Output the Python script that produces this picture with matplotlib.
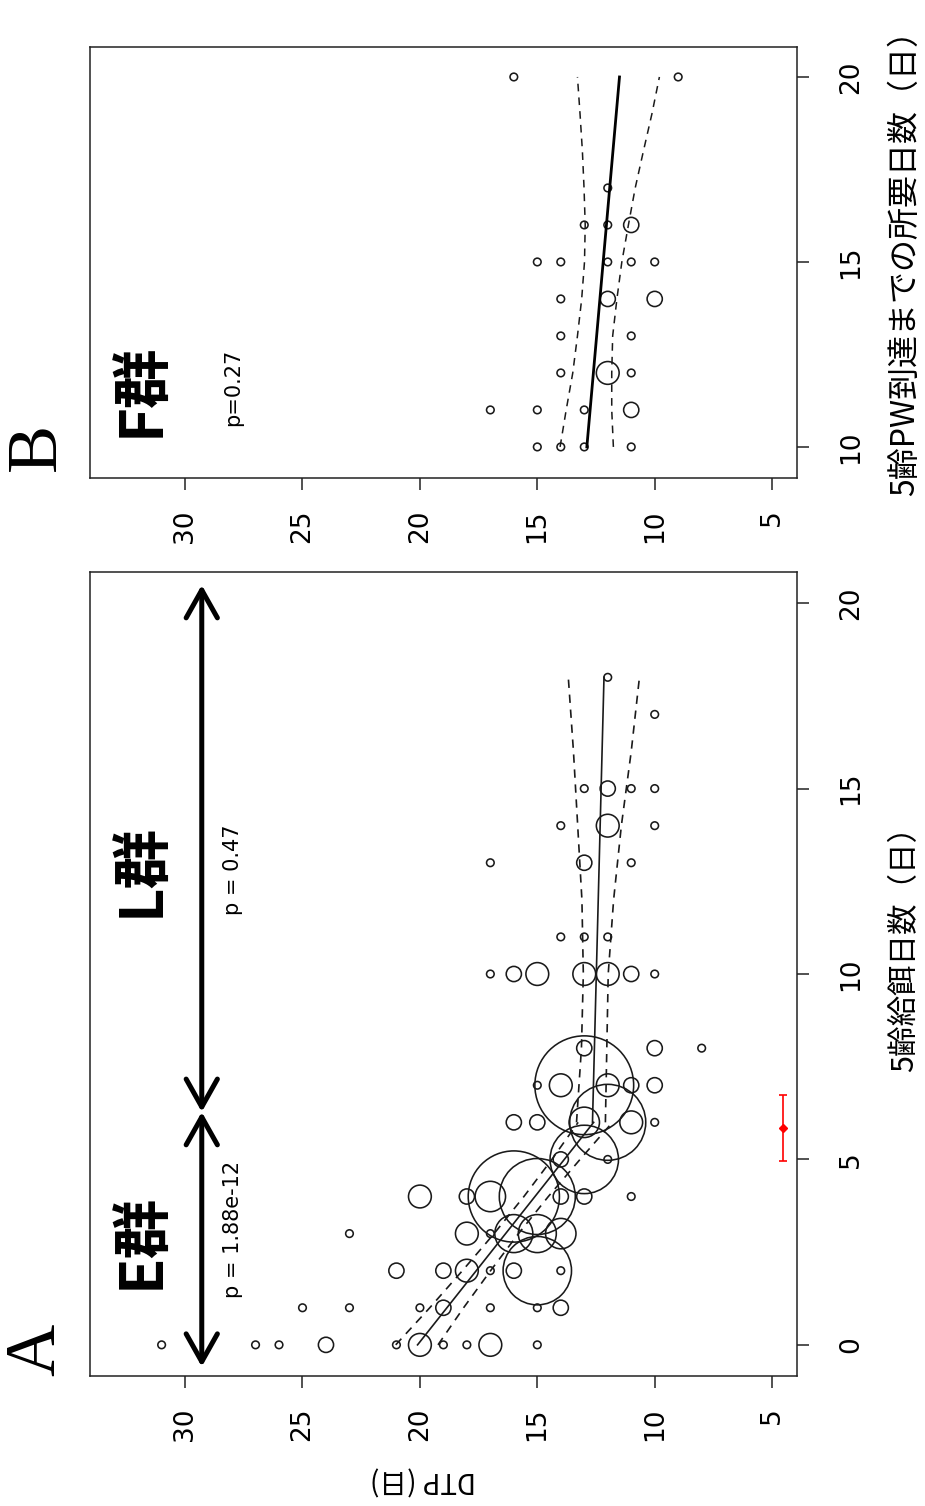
import matplotlib
matplotlib.use("Agg")
import matplotlib.pyplot as plt
import numpy as np

plt.rcParams['font.family'] = ['DejaVu Sans', 'Noto Sans CJK JP']
JP = ['Noto Sans CJK JP', 'DejaVu Sans']

# ---------------- Panel A data (day of 5th-instar feeding, DTP, count) -------------
a_day = [0, 0, 0, 0, 0, 0, 0, 0, 0, 0,
         1, 1, 1, 1, 1, 1, 1,
         2, 2, 2, 2, 2, 2, 2,
         3, 3, 3, 3, 3, 3,
         4, 4, 4, 4, 4, 4, 4, 4,
         5, 5, 5,
         6, 6, 6, 6, 6, 6,
         7, 7, 7, 7, 7, 7,
         8, 8, 8,
         10, 10, 10, 10, 10, 10, 10,
         11, 11, 11,
         13, 13, 13,
         14, 14, 14,
         15, 15, 15, 15,
         17, 18]
a_dtp = [31, 27, 26, 24, 21, 20, 19, 18, 17, 15,
         25, 23, 20, 19, 17, 15, 14,
         21, 19, 18, 17, 16, 15, 14,
         23, 18, 17, 16, 15, 14,
         20, 18, 17, 16, 15, 14, 13, 11,
         14, 13, 12,
         16, 15, 13, 12, 11, 10,
         15, 14, 13, 12, 11, 10,
         13, 10, 8,
         17, 16, 15, 13, 12, 11, 10,
         14, 13, 12,
         17, 13, 11,
         14, 12, 10,
         13, 12, 11, 10,
         10, 12]
a_n = [1, 1, 1, 2, 1, 3, 1, 1, 3, 1,
       1, 1, 1, 2, 1, 1, 2,
       2, 2, 3, 1, 2, 9, 1,
       1, 3, 1, 5, 5, 4,
       3, 2, 4, 12, 10, 2, 2, 1,
       2, 9, 1,
       2, 2, 4, 10, 3, 1,
       1, 3, 13, 3, 2, 2,
       2, 2, 1,
       1, 2, 3, 3, 3, 2, 1,
       1, 1, 1,
       1, 2, 1,
       1, 3, 1,
       1, 2, 1, 1,
       1, 1]

# regression lines and confidence bands
e_line_day = [0, 6]
e_line_dtp = [20.1, 12.6]
e_band_day = [0, 1, 2, 3, 4, 5, 6]
e_band_hi = [21.03, 19.58, 18.19, 16.84, 15.57, 14.38, 13.26]
e_band_lo = [19.23, 18.14, 16.99, 15.80, 14.53, 13.18, 11.80]

l_line_day = [6, 18]
l_line_dtp = [12.65, 12.16]
l_band_day = [6, 8, 10, 12, 14, 16, 18]
l_band_hi = [13.33, 13.12, 13.04, 13.10, 13.28, 13.46, 13.68]
l_band_lo = [12.10, 12.04, 11.98, 11.75, 11.42, 11.00, 10.65]

# red reference point
ref_day = 5.85
ref_dtp = 4.53
ref_err = 0.9

# ---------------- Panel B data -------------
b_day = [10, 10, 10, 10,
         11, 11, 11, 11,
         12, 12, 12,
         13, 13,
         14, 14, 14,
         15, 15, 15, 15, 15,
         16, 16, 16,
         17,
         20, 20]
b_dtp = [15, 14, 13, 11,
         17, 15, 13, 11,
         14, 12, 11,
         14, 11,
         14, 12, 10,
         15, 14, 12, 11, 10,
         13, 12, 11,
         12,
         16, 9]
b_n = [1, 1, 1, 1,
       1, 1, 1, 2,
       1, 3, 1,
       1, 1,
       1, 2, 2,
       1, 1, 1, 1, 1,
       1, 1, 2,
       1,
       1, 1]

f_line_day = [10, 20]
f_line_dtp = [12.89, 11.5]
f_band_day = [10, 11, 12, 13, 14, 15, 16, 17, 18, 19, 20]
f_band_hi = [14.03, 13.77, 13.49, 13.29, 13.11, 12.99, 12.96, 13.01, 13.08, 13.18, 13.29]
f_band_lo = [11.76, 11.83, 11.83, 11.79, 11.61, 11.40, 11.12, 10.83, 10.48, 10.12, 9.80]

dtp_ticks = [30, 25, 20, 15, 10, 5]

W, H = 925, 1506
fig = plt.figure(figsize=(W / 100, H / 100), dpi=100)


def fx(x):
    return x / W


def fy(y):
    return 1 - y / H


def sizes(n):
    r_px = 3.8 * np.asarray(n, dtype=float)
    d_pt = 2 * r_px * 0.72
    return d_pt ** 2


def style_axes(ax, yticks):
    ax.set_xlim(34.05, 3.94)
    ax.set_xticks(dtp_ticks)
    ax.yaxis.tick_right()
    ax.set_yticks(yticks)
    ax.tick_params(axis='both', direction='out', length=8.6, width=1.1,
                   labelsize=19, color='#222222', labelcolor='black')
    ax.tick_params(axis='x', labelrotation=90, pad=14)
    ax.tick_params(axis='y', labelrotation=90, pad=21)
    for lab in ax.get_yticklabels():
        lab.set_verticalalignment('center')
    for sp in ax.spines.values():
        sp.set_linewidth(1.1)
        sp.set_color('#222222')


# ---------------- Panel A -------------
axA = fig.add_axes([fx(90), fy(1376), (797 - 90) / W, (1376 - 572) / H])
style_axes(axA, [0, 5, 10, 15, 20])
axA.set_ylim(-0.84, 20.84)
axA.scatter(a_dtp, a_day, s=sizes(a_n), facecolors='none', edgecolors='#1a1a1a',
            linewidths=1.15, zorder=3)
axA.plot(e_line_dtp, e_line_day, color='#1a1a1a', lw=1.2, zorder=4)
axA.plot(e_band_hi, e_band_day, color='#1a1a1a', lw=1.2, ls=(0, (5, 4)), zorder=4)
axA.plot(e_band_lo, e_band_day, color='#1a1a1a', lw=1.2, ls=(0, (5, 4)), zorder=4)
axA.plot(l_line_dtp, l_line_day, color='#1a1a1a', lw=1.2, zorder=4)
axA.plot(l_band_hi, l_band_day, color='#1a1a1a', lw=1.2, ls=(0, (5, 4)), zorder=4)
axA.plot(l_band_lo, l_band_day, color='#1a1a1a', lw=1.2, ls=(0, (5, 4)), zorder=4)
axA.errorbar([ref_dtp], [ref_day], yerr=[[ref_err], [ref_err]], fmt='D', color='red',
             ms=4, capsize=3, elinewidth=1.2, capthick=1.2, zorder=5)

arrow_kw = dict(arrowstyle='<->,head_length=0.8,head_width=0.45', lw=3.6, color='black',
                shrinkA=0, shrinkB=0, mutation_scale=25, capstyle='round', joinstyle='round')
axA.annotate('', xy=(29.29, -0.59), xytext=(29.29, 6.28), arrowprops=arrow_kw)
axA.annotate('', xy=(29.29, 6.28), xytext=(29.29, 20.49), arrowprops=arrow_kw)

axA.text(31.87, 2.8, 'E群', rotation=90, fontsize=43, fontweight='bold', family=JP,
         ha='center', va='center')
axA.text(31.87, 12.8, 'L群', rotation=90, fontsize=43, fontweight='bold', family=JP,
         ha='center', va='center')
axA.text(27.96, 3.1, 'p = 1.88e-12', rotation=90, fontsize=15, ha='center', va='center')
axA.text(27.96, 12.8, 'p = 0.47', rotation=90, fontsize=15, ha='center', va='center')

# ---------------- Panel B -------------
axB = fig.add_axes([fx(90), fy(478), (797 - 90) / W, (478 - 47) / H])
style_axes(axB, [10, 15, 20])
axB.set_ylim(9.16, 20.81)
axB.scatter(b_dtp, b_day, s=sizes(b_n), facecolors='none', edgecolors='#1a1a1a',
            linewidths=1.15, zorder=3)
axB.plot(f_line_dtp, f_line_day, color='black', lw=2.0, zorder=4)
axB.plot(f_band_hi, f_band_day, color='#1a1a1a', lw=1.1, ls=(0, (5, 4)), zorder=4)
axB.plot(f_band_lo, f_band_day, color='#1a1a1a', lw=1.1, ls=(0, (5, 4)), zorder=4)
axB.text(31.87, 11.55, 'F群', rotation=90, fontsize=43, fontweight='bold', family=JP,
         ha='center', va='center')
axB.text(27.96, 11.6, 'p=0.27', rotation=90, fontsize=15, ha='center', va='center')

# ---------------- figure labels -------------
fig.text(fx(37), fy(1350), 'A', rotation=90, fontsize=52, family='Liberation Serif',
         ha='center', va='center')
fig.text(fx(37), fy(447), 'B', rotation=90, fontsize=52, family='Liberation Serif',
         ha='center', va='center')
fig.text(fx(905), fy(941), '5齢給餌日数（日）', rotation=90, fontsize=22, family=JP,
         ha='center', va='center')
fig.text(fx(905), fy(255), '5齢PW到達までの所要日数（日）', rotation=90, fontsize=23,
         family=JP, ha='center', va='center')
fig.text(fx(423), fy(1480), 'DTP (日)', rotation=180, fontsize=20, family=JP,
         ha='center', va='center')

fig.savefig('out.png', dpi=100, facecolor='white')
